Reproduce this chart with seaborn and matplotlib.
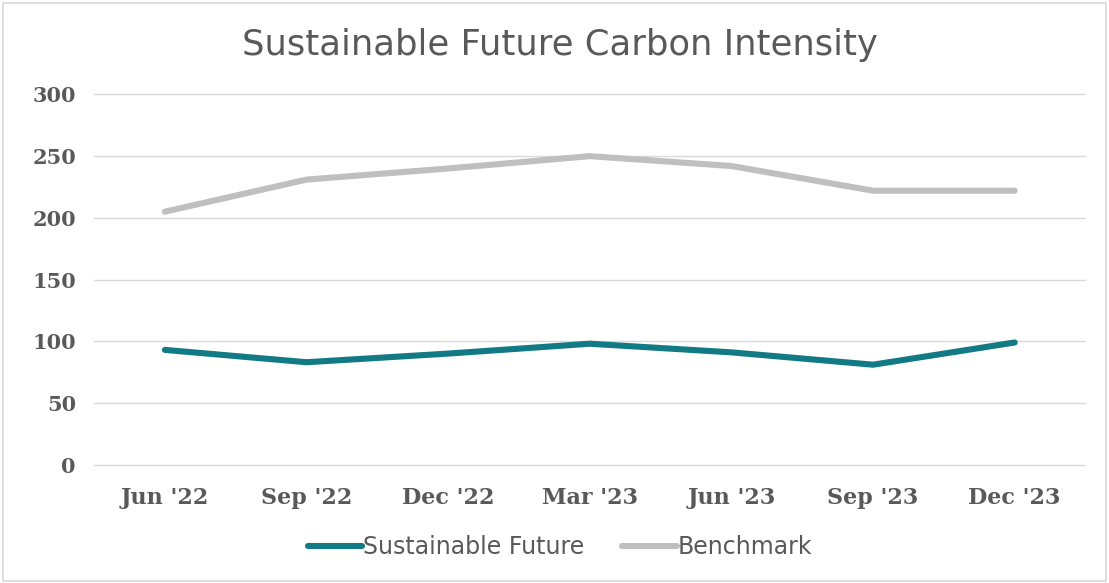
import matplotlib
matplotlib.use("Agg")
import matplotlib.pyplot as plt
import seaborn as sns
import pandas as pd
from matplotlib.patches import Rectangle
from matplotlib.lines import Line2D

categories = ["Jun '22", "Sep '22", "Dec '22", "Mar '23", "Jun '23", "Sep '23", "Dec '23"]
sustainable = [93, 83, 90, 98, 91, 81, 99]
benchmark = [205, 231, 240, 250, 242, 222, 222]
series_names = ["Sustainable Future", "Benchmark"]
yticks = [0, 50, 100, 150, 200, 250, 300]

sns.set_theme(style="white")
plt.rcParams['font.family'] = ['DejaVu Sans']

df = pd.DataFrame({
    "period": categories * 2,
    "value": sustainable + benchmark,
    "series": [series_names[0]] * len(categories) + [series_names[1]] * len(categories),
})

fig = plt.figure(figsize=(11.09, 5.83), dpi=100)
ax = fig.add_axes([0.0848, 0.203, 0.894, 0.635])

palette = {"Sustainable Future": "#127A84", "Benchmark": "#BFBFBF"}
sns.lineplot(data=df, x="period", y="value", hue="series", palette=palette,
             linewidth=4.4, ax=ax, sort=False, legend=False, solid_capstyle="round")

ax.set_xlim(-0.5, len(categories) - 0.5)
ax.set_ylim(0, 300)
ax.set_yticks(yticks)
ax.yaxis.grid(True, color="#D9D9D9", linewidth=1.0)
for gl in ax.get_ygridlines():
    gl.set_clip_on(False)
ax.set_axisbelow(True)
for s in ax.spines.values():
    s.set_visible(False)
ax.set_xlabel("")
ax.set_ylabel("")
ax.tick_params(axis="both", length=0)
ax.tick_params(axis="y", pad=13)
ax.tick_params(axis="x", pad=16)
for lab in ax.get_yticklabels():
    lab.set_fontfamily("DejaVu Serif")
    lab.set_fontweight("bold")
    lab.set_fontsize(15)
    lab.set_color("#595959")
for lab in ax.get_xticklabels():
    lab.set_fontfamily("DejaVu Serif")
    lab.set_fontweight("bold")
    lab.set_fontsize(16)
    lab.set_color("#595959")

fig.text(0.5045, 0.922, "Sustainable Future Carbon Intensity", ha="center", va="center",
         fontsize=25.5, color="#595959")

handles = [Line2D([0], [0], color=palette[n], linewidth=4.4, solid_capstyle="round") for n in series_names]
leg = fig.legend(handles, series_names, loc="center", bbox_to_anchor=(0.505, 0.062), ncol=2,
                 frameon=False, fontsize=17, handlelength=2.3, handletextpad=0.05, columnspacing=1.6,
                 labelcolor="#595959")

fig.patches.append(Rectangle((0.003, 0.004), 0.994, 0.99, transform=fig.transFigure,
                             fill=False, edgecolor="#D9D9D9", linewidth=1.2))

fig.savefig("out.png", dpi=100)
